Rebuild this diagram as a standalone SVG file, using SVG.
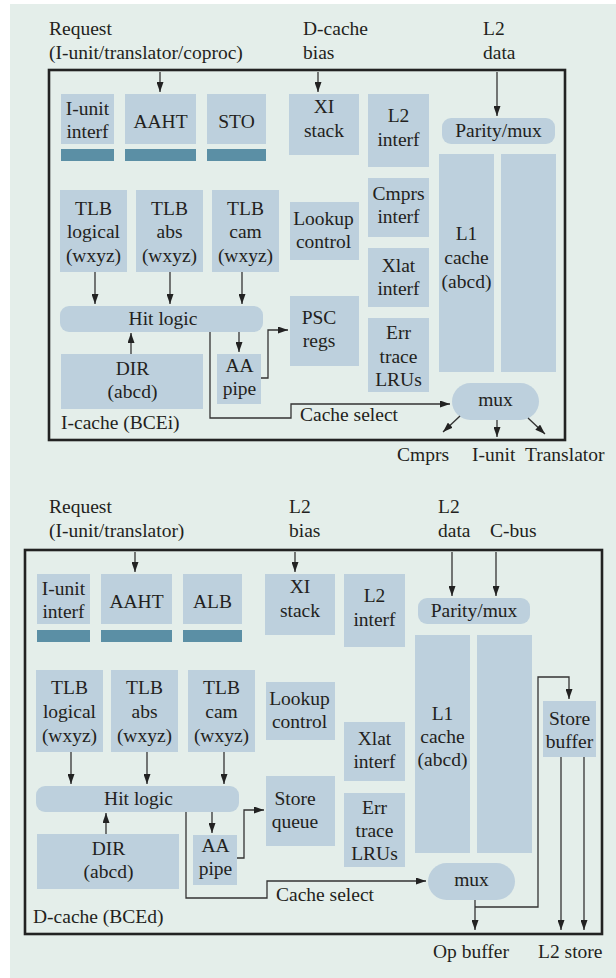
<svg xmlns="http://www.w3.org/2000/svg" width="616" height="978" viewBox="0 0 616 978">
<defs>
<style>
.bg{fill:#E4EEEA}
.box{fill:#BDD0DD}
.bar{fill:#5B8FA5}
.frame{fill:none;stroke:#222;stroke-width:2.6}
text{font-family:"Liberation Serif","Times New Roman",serif;font-size:19.5px;fill:#231F20}
.m{text-anchor:middle}
.c{fill:none;stroke:#333;stroke-width:1.3;marker-end:url(#ah)}
.n{fill:none;stroke:#333;stroke-width:1.3}
</style>
<marker id="ah" viewBox="0 0 10 7" refX="10" refY="3.5" markerWidth="10" markerHeight="7" markerUnits="userSpaceOnUse" orient="auto">
<path d="M0,0 L10,3.5 L0,7 z" fill="#222"/>
</marker>
</defs>
<rect x="0" y="0" width="616" height="978" fill="#fff"/>
<rect class="bg" x="10" y="4" width="606" height="974"/>

<!-- ===== I-cache ===== -->
<g id="icache-labels">
<text x="49" y="35">Request</text>
<text x="49" y="59">(I-unit/translator/coproc)</text>
<text x="303" y="35">D-cache</text>
<text x="303" y="59">bias</text>
<text x="483" y="35">L2</text>
<text x="483" y="59">data</text>
<text x="397" y="461">Cmprs</text>
<text x="472" y="461">I-unit</text>
<text x="525" y="461">Translator</text>
</g>
<g id="icache-frame">
<rect class="frame" x="49" y="70" width="516" height="370"/>
<text x="61" y="429">I-cache (BCEi)</text>
</g>
<g id="i-iunit"><rect class="box" x="61" y="94" width="53" height="50"/><rect class="bar" x="61" y="149" width="53" height="12"/><text class="m" x="87.5" y="115">I-unit</text><text class="m" x="87.5" y="138">interf</text></g>
<g id="i-aaht"><rect class="box" x="125" y="94" width="71" height="50"/><rect class="bar" x="125" y="149" width="71" height="12"/><text class="m" x="160.5" y="128">AAHT</text></g>
<g id="i-sto"><rect class="box" x="207" y="94" width="59" height="50"/><rect class="bar" x="207" y="149" width="59" height="12"/><text class="m" x="236.5" y="128">STO</text></g>
<g id="i-xi"><rect class="box" x="289" y="94" width="70" height="61"/><text class="m" x="324" y="113">XI</text><text class="m" x="324" y="137">stack</text></g>
<g id="i-l2if"><rect class="box" x="368" y="94" width="61" height="73"/><text class="m" x="398.5" y="122">L2</text><text class="m" x="398.5" y="146">interf</text></g>
<g id="i-parity"><rect class="box" x="442" y="118" width="113" height="26" rx="9"/><text class="m" x="498.5" y="137">Parity/mux</text></g>
<g id="i-cmprs"><rect class="box" x="368" y="178" width="61" height="59"/><text class="m" x="398.5" y="200">Cmprs</text><text class="m" x="398.5" y="223">interf</text></g>
<g id="i-tlbl"><rect class="box" x="60" y="190" width="67" height="82"/><text class="m" x="93.5" y="215">TLB</text><text class="m" x="93.5" y="238">logical</text><text class="m" x="93.5" y="262">(wxyz)</text></g>
<g id="i-tlba"><rect class="box" x="136" y="190" width="67" height="82"/><text class="m" x="169.5" y="215">TLB</text><text class="m" x="169.5" y="238">abs</text><text class="m" x="169.5" y="262">(wxyz)</text></g>
<g id="i-tlbc"><rect class="box" x="212" y="190" width="67" height="82"/><text class="m" x="245.5" y="215">TLB</text><text class="m" x="245.5" y="238">cam</text><text class="m" x="245.5" y="262">(wxyz)</text></g>
<g id="i-lookup"><rect class="box" x="290" y="202" width="69" height="58"/><text class="m" x="323.5" y="225">Lookup</text><text class="m" x="323.5" y="248">control</text></g>
<g id="i-l1"><rect class="box" x="439" y="154" width="55" height="218"/><rect class="box" x="501" y="154" width="55" height="218"/><text class="m" x="466.5" y="240">L1</text><text class="m" x="466.5" y="264">cache</text><text class="m" x="466.5" y="288">(abcd)</text></g>
<g id="i-xlat"><rect class="box" x="368" y="248" width="61" height="59"/><text class="m" x="398.5" y="272">Xlat</text><text class="m" x="398.5" y="295">interf</text></g>
<g id="i-hit"><rect class="box" x="60" y="306" width="203" height="26" rx="9"/><text class="m" x="163" y="325">Hit logic</text></g>
<g id="i-psc"><rect class="box" x="290" y="296" width="69" height="70"/><text class="m" x="319" y="324">PSC</text><text class="m" x="319" y="347">regs</text></g>
<g id="i-err"><rect class="box" x="368" y="318" width="61" height="74"/><text class="m" x="398.5" y="339">Err</text><text class="m" x="398.5" y="363">trace</text><text class="m" x="398.5" y="386">LRUs</text></g>
<g id="i-dir"><rect class="box" x="61" y="354" width="142" height="55"/><text class="m" x="132.5" y="375">DIR</text><text class="m" x="132.5" y="398">(abcd)</text></g>
<g id="i-aa"><rect class="box" x="217" y="354" width="44" height="50"/><text class="m" x="239.5" y="372">AA</text><text class="m" x="239.5" y="395">pipe</text></g>
<g id="i-mux"><rect class="box" x="452" y="383" width="87" height="37" rx="18.5"/><text class="m" x="495.5" y="406">mux</text></g>
<g id="i-connectors">
<path class="c" d="M160,72 V92"/>
<path class="c" d="M318,72 V92"/>
<path class="c" d="M497,72 V116"/>
<path class="c" d="M95,272 V304"/>
<path class="c" d="M170,272 V304"/>
<path class="c" d="M242,272 V304"/>
<path class="c" d="M131,354 V333"/>
<path class="c" d="M239,332 V352"/>
<path class="c" d="M261,378 H268 V330 H288"/>
<path class="c" d="M210,332 V418 H291 V404 H450"/>
<path class="c" d="M460,416 L443,432"/>
<path class="c" d="M497,420 V437"/>
<path class="c" d="M528,418 L545,434"/>
<text x="300" y="421">Cache select</text>
</g>

<!-- ===== D-cache ===== -->
<g id="dcache-labels">
<text x="49" y="513">Request</text>
<text x="49" y="537">(I-unit/translator)</text>
<text x="289" y="513">L2</text>
<text x="289" y="537">bias</text>
<text x="438" y="513">L2</text>
<text x="438" y="537">data</text>
<text x="490" y="537">C-bus</text>
<text x="433" y="958">Op buffer</text>
<text x="538" y="958">L2 store</text>
</g>
<g id="dcache-frame">
<rect class="frame" x="25" y="550" width="577" height="384"/>
<text x="33" y="923">D-cache (BCEd)</text>
</g>
<g id="d-iunit"><rect class="box" x="37" y="574" width="53" height="50"/><rect class="bar" x="37" y="630" width="53" height="12"/><text class="m" x="63.5" y="595">I-unit</text><text class="m" x="63.5" y="618">interf</text></g>
<g id="d-aaht"><rect class="box" x="101" y="574" width="71" height="50"/><rect class="bar" x="101" y="630" width="71" height="12"/><text class="m" x="136.5" y="608">AAHT</text></g>
<g id="d-alb"><rect class="box" x="183" y="574" width="59" height="50"/><rect class="bar" x="183" y="630" width="59" height="12"/><text class="m" x="212.5" y="608">ALB</text></g>
<g id="d-xi"><rect class="box" x="265" y="574" width="70" height="61"/><text class="m" x="300" y="593">XI</text><text class="m" x="300" y="617">stack</text></g>
<g id="d-l2if"><rect class="box" x="344" y="574" width="61" height="73"/><text class="m" x="374.5" y="602">L2</text><text class="m" x="374.5" y="626">interf</text></g>
<g id="d-parity"><rect class="box" x="418" y="598" width="112" height="26" rx="9"/><text class="m" x="474" y="617">Parity/mux</text></g>
<g id="d-tlbl"><rect class="box" x="36" y="670" width="67" height="82"/><text class="m" x="69.5" y="694">TLB</text><text class="m" x="69.5" y="718">logical</text><text class="m" x="69.5" y="742">(wxyz)</text></g>
<g id="d-tlba"><rect class="box" x="111" y="670" width="67" height="82"/><text class="m" x="144.5" y="694">TLB</text><text class="m" x="144.5" y="718">abs</text><text class="m" x="144.5" y="742">(wxyz)</text></g>
<g id="d-tlbc"><rect class="box" x="188" y="670" width="67" height="82"/><text class="m" x="221.5" y="694">TLB</text><text class="m" x="221.5" y="718">cam</text><text class="m" x="221.5" y="742">(wxyz)</text></g>
<g id="d-lookup"><rect class="box" x="266" y="682" width="69" height="58"/><text class="m" x="299.5" y="705">Lookup</text><text class="m" x="299.5" y="728">control</text></g>
<g id="d-l1"><rect class="box" x="415" y="635" width="55" height="218"/><rect class="box" x="477" y="635" width="55" height="218"/><text class="m" x="442.5" y="720">L1</text><text class="m" x="442.5" y="743">cache</text><text class="m" x="442.5" y="766">(abcd)</text></g>
<g id="d-storebuf"><rect class="box" x="543" y="701" width="53" height="56"/><text class="m" x="569.5" y="725">Store</text><text class="m" x="569.5" y="748">buffer</text></g>
<g id="d-xlat"><rect class="box" x="344" y="722" width="61" height="59"/><text class="m" x="374.5" y="745">Xlat</text><text class="m" x="374.5" y="768">interf</text></g>
<g id="d-hit"><rect class="box" x="36" y="786" width="203" height="26" rx="9"/><text class="m" x="138.5" y="805">Hit logic</text></g>
<g id="d-storeq"><rect class="box" x="266" y="776" width="69" height="70"/><text class="m" x="295" y="805">Store</text><text class="m" x="295" y="828">queue</text></g>
<g id="d-err"><rect class="box" x="344" y="793" width="61" height="74"/><text class="m" x="374.5" y="814">Err</text><text class="m" x="374.5" y="837">trace</text><text class="m" x="374.5" y="860">LRUs</text></g>
<g id="d-dir"><rect class="box" x="37" y="834" width="142" height="55"/><text class="m" x="108.5" y="855">DIR</text><text class="m" x="108.5" y="878">(abcd)</text></g>
<g id="d-aa"><rect class="box" x="193" y="835" width="44" height="50"/><text class="m" x="215.5" y="852">AA</text><text class="m" x="215.5" y="875">pipe</text></g>
<g id="d-mux"><rect class="box" x="428" y="863" width="87" height="37" rx="18.5"/><text class="m" x="471.5" y="886">mux</text></g>
<g id="d-connectors">
<path class="c" d="M135,552 V572"/>
<path class="c" d="M295,552 V572"/>
<path class="c" d="M452,552 V596"/>
<path class="c" d="M496,552 V596"/>
<path class="c" d="M71,752 V784"/>
<path class="c" d="M147,752 V784"/>
<path class="c" d="M224,752 V784"/>
<path class="c" d="M106,834 V813"/>
<path class="c" d="M212,812 V833"/>
<path class="c" d="M237,858 H244 V810 H264"/>
<path class="c" d="M186,812 V898 H267 V881 H426"/>
<path class="c" d="M475,900 V930"/>
<path class="c" d="M475,907 H538 V677 H569 V699"/>
<path class="c" d="M561,757 V930"/>
<path class="c" d="M584,757 V930"/>
<text x="276" y="901">Cache select</text>
</g>
</svg>
